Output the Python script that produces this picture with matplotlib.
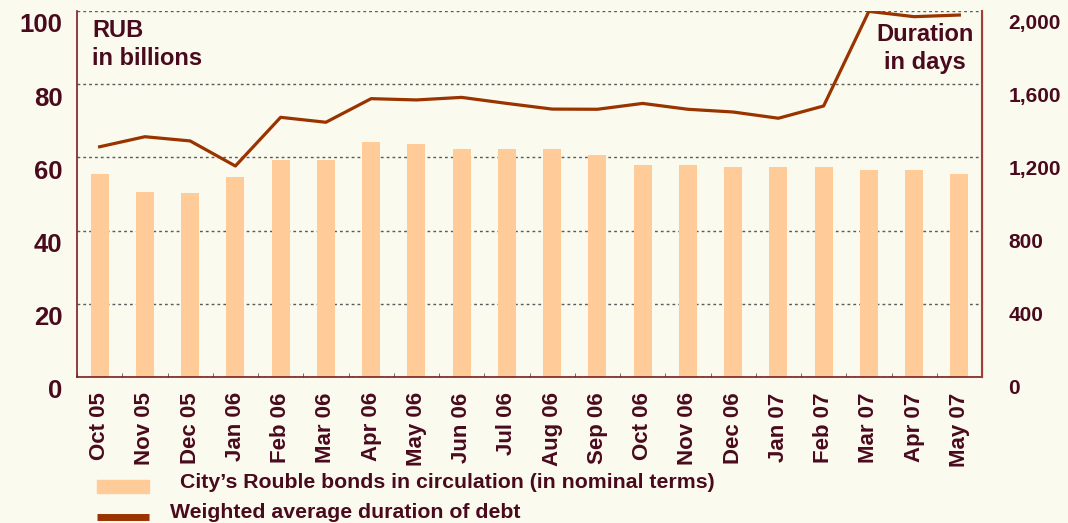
import numpy as np
import matplotlib
matplotlib.use('Agg')
import matplotlib.pyplot as plt
from matplotlib.transforms import ScaledTranslation
from matplotlib.patches import Rectangle
from matplotlib.lines import Line2D

months = ['Oct 05', 'Nov 05', 'Dec 05', 'Jan 06', 'Feb 06', 'Mar 06', 'Apr 06',
          'May 06', 'Jun 06', 'Jul 06', 'Aug 06', 'Sep 06', 'Oct 06', 'Nov 06',
          'Dec 06', 'Jan 07', 'Feb 07', 'Mar 07', 'Apr 07', 'May 07']
bonds = [55.5, 50.5, 50.3, 54.6, 59.3, 59.3, 64.2, 63.7, 62.3, 62.3,
         62.3, 60.7, 57.9, 57.9, 57.4, 57.4, 57.4, 56.6, 56.6, 55.5]
duration = [1258, 1313, 1290, 1153, 1419, 1392, 1521, 1514, 1528, 1495,
            1464, 1463, 1495, 1463, 1448, 1414, 1481, 1998, 1969, 1978]
left_ticks = [0, 20, 40, 60, 80, 100]
right_ticks = [0, 400, 800, 1200, 1600, 2000]
right_labels = ['0', '400', '800', '1,200', '1,600', '2,000']
bar_label = 'City\u2019s Rouble bonds in circulation (in nominal terms)'
line_label = 'Weighted average duration of debt'

BG = '#FAFAEE'
TXT = '#4A0A1E'
BAR = '#FFCC99'
LINE = '#993300'

plt.rcParams['font.family'] = ['Liberation Sans', 'DejaVu Sans']
plt.rcParams['font.weight'] = 'bold'

W, H = 1068, 523
fig = plt.figure(figsize=(W / 100, H / 100), dpi=100)
fig.patch.set_facecolor(BG)

def fx(px):
    return px / W

def fy(py):
    return 1 - py / H

ax = fig.add_axes([fx(77), fy(377), fx(982) - fx(77), fy(11) - fy(377)])
ax.set_facecolor(BG)
x = np.arange(len(months))
ax.bar(x, bonds, width=0.4, color=BAR, zorder=2)
ax.set_xlim(-0.5, len(months) - 0.5)
ax.set_ylim(0, 100)
ax.set_yticks(left_ticks)
ax.set_yticklabels([str(v) for v in left_ticks])
ax.yaxis.grid(True, color='#5a5a5a', linestyle=(0, (2, 2.2)), linewidth=1.0, zorder=1)
ax.set_axisbelow(True)
ax.tick_params(axis='y', length=0, pad=10.5, labelsize=18.5, labelcolor=TXT)
ax.set_xticks(x)
ax.set_xticklabels(months, rotation=90)
ax.set_xticks(np.arange(len(months) + 1) - 0.5, minor=True)
ax.tick_params(axis='x', which='major', length=0, pad=11, labelsize=16, labelcolor=TXT)
ax.tick_params(axis='x', which='minor', direction='in', length=3, color='#555555')

ax.spines['top'].set_visible(False)
ax.spines['left'].set_color('#7B1F1F')
ax.spines['bottom'].set_color('#7B1F1F')
ax.spines['left'].set_linewidth(1.2)
ax.spines['bottom'].set_linewidth(1.2)

ax2 = ax.twinx()
ax2.plot(x, duration, color=LINE, linewidth=2.3, zorder=3)
ax2.set_ylim(0, 2000)
ax2.set_yticks(right_ticks)
ax2.set_yticklabels(right_labels)
ax2.tick_params(axis='y', length=0, pad=19, labelsize=15, labelcolor=TXT)
ax2.spines['top'].set_visible(False)
ax2.spines['left'].set_visible(False)
ax2.spines['bottom'].set_visible(False)
ax2.spines['right'].set_color('#A0403A')
ax2.spines['right'].set_linewidth(1.5)

off = ScaledTranslation(0, -0.12, fig.dpi_scale_trans)
for lab in ax.get_yticklabels():
    lab.set_transform(lab.get_transform() + off)
off2 = ScaledTranslation(0, -0.10, fig.dpi_scale_trans)
for lab in ax2.get_yticklabels():
    lab.set_transform(lab.get_transform() + off2)

fig.text(fx(92), fy(19), 'RUB\nin billions', ha='left', va='top', fontsize=17,
         color=TXT, linespacing=1.28)
fig.text(fx(925), fy(23), 'Duration\nin days', ha='center', va='top', fontsize=17,
         color=TXT, linespacing=1.28, multialignment='center')

fig.patches.append(Rectangle((fx(97), fy(493)), fx(149) - fx(97), fy(480) - fy(493),
                             transform=fig.transFigure, color=BAR, figure=fig))
fig.lines.append(Line2D([fx(97), fx(149)], [fy(517), fy(517)], transform=fig.transFigure,
                        color=LINE, linewidth=5, solid_capstyle='butt', figure=fig))
fig.text(fx(180), fy(483), bar_label, ha='left', va='center', fontsize=15.3, color=TXT)
fig.text(fx(170), fy(512), line_label, ha='left', va='center', fontsize=15.3, color=TXT)

fig.savefig('out.png', dpi=100, facecolor=BG)
